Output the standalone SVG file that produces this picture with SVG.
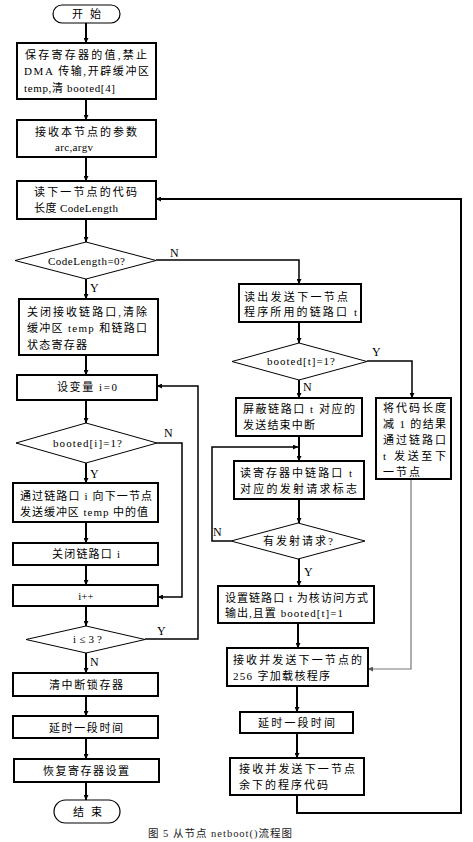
<svg xmlns="http://www.w3.org/2000/svg" width="473" height="842" viewBox="0 0 473 842">
<defs>
<marker id="ah" viewBox="0 0 8 8" refX="8" refY="4" markerWidth="5" markerHeight="5" markerUnits="userSpaceOnUse" orient="auto">
<path d="M0,0 L8,4 L0,8 Z" fill="#000"/>
</marker>
<marker id="ahg" viewBox="0 0 8 8" refX="8" refY="4" markerWidth="5" markerHeight="5" markerUnits="userSpaceOnUse" orient="auto">
<path d="M0,0 L8,4 L0,8 Z" fill="#555"/>
</marker>
<style>
.box{fill:#fff;stroke:#000;stroke-width:2}
.dia{fill:#fff;stroke:#000;stroke-width:1}
.term{fill:#fff;stroke:#000;stroke-width:1.2}
.t{font-family:"Liberation Serif","Noto Sans CJK SC",serif;font-size:11px;fill:#000}
.lb{font-family:"Liberation Serif",serif;font-size:12px;fill:#000}
.c{fill:none;stroke:#000;stroke-width:2}
.c1{fill:none;stroke:#000;stroke-width:1.5}
.cg{fill:none;stroke:#777;stroke-width:1.2}
.cap{font-family:"Liberation Serif","Noto Sans CJK SC",serif;font-size:10.5px;fill:#222}
</style>
</defs>
<g id="connectors">
<path class="c" d="M86,23 V43" marker-end="url(#ah)"/>
<path class="c" d="M86,99 V120" marker-end="url(#ah)"/>
<path class="c" d="M86,157 V181" marker-end="url(#ah)"/>
<path class="c" d="M86,219 V242" marker-end="url(#ah)"/>
<path class="c" d="M86,279 V299" marker-end="url(#ah)"/>
<path class="c" d="M86,355 V375" marker-end="url(#ah)"/>
<path class="c" d="M86,400 V423" marker-end="url(#ah)"/>
<path class="c" d="M86,463 V483" marker-end="url(#ah)"/>
<path class="c" d="M86,522 V543" marker-end="url(#ah)"/>
<path class="c" d="M86,565 V585" marker-end="url(#ah)"/>
<path class="c" d="M86,606 V626" marker-end="url(#ah)"/>
<path class="c" d="M86,653 V673" marker-end="url(#ah)"/>
<path class="c" d="M86,696 V716" marker-end="url(#ah)"/>
<path class="c" d="M86,738 V759" marker-end="url(#ah)"/>
<path class="c" d="M86,782 V800" marker-end="url(#ah)"/>
<path class="c1" d="M157,443 H182 V597 H158" marker-end="url(#ah)"/>
<path class="c1" d="M145,639 H198 V386 H157" marker-end="url(#ah)"/>
<path class="c1" d="M156,260 H299 V284" marker-end="url(#ah)"/>
<path class="c" d="M299,322 V343" marker-end="url(#ah)"/>
<path class="c" d="M299,380 V398" marker-end="url(#ah)"/>
<path class="c1" d="M367,361 H412 V398" marker-end="url(#ah)"/>
<path class="c" d="M299,436 V461" marker-end="url(#ah)"/>
<path class="c" d="M299,499 V523" marker-end="url(#ah)"/>
<path class="c1" d="M231,541 H212 V447 H298" marker-end="url(#ah)"/>
<path class="c" d="M299,559 V586" marker-end="url(#ah)"/>
<path class="c" d="M298,623 V648" marker-end="url(#ah)"/>
<path class="cg" d="M411,479 V669 H368" marker-end="url(#ahg)"/>
<path class="c" d="M297,686 V712" marker-end="url(#ah)"/>
<path class="c" d="M297,733 V758" marker-end="url(#ah)"/>
<path class="c" d="M297,795 V813 H461 V199 H156" marker-end="url(#ah)"/>
<text class="lb" x="170" y="257">N</text>
<text class="lb" x="90" y="292">Y</text>
<text class="lb" x="164" y="437">N</text>
<text class="lb" x="90" y="478">Y</text>
<text class="lb" x="157" y="635">Y</text>
<text class="lb" x="90" y="666">N</text>
<text class="lb" x="372" y="356">Y</text>
<text class="lb" x="303" y="391">N</text>
<text class="lb" x="213" y="536">N</text>
<text class="lb" x="304" y="576">Y</text>
</g>
<g id="start"><rect class="term" x="53" y="5" width="67" height="18" rx="9"/><text class="t" x="72" y="18" textLength="29" lengthAdjust="spacing">开始</text></g>
<g id="save"><rect class="box" x="17" y="43" width="139" height="56"/>
<text class="t" x="25" y="59" textLength="122" lengthAdjust="spacing">保存寄存器的值,禁止</text>
<text class="t" x="24" y="75" textLength="125" lengthAdjust="spacing">DMA 传输,开辟缓冲区</text>
<text class="t" x="24" y="92" textLength="91" lengthAdjust="spacing">temp,清 booted[4]</text></g>
<g id="recv"><rect class="box" x="17" y="120" width="139" height="37"/>
<text class="t" x="35" y="136" textLength="102" lengthAdjust="spacing">接收本节点的参数</text>
<text class="t" x="55" y="151" textLength="38" lengthAdjust="spacing">arc,argv</text></g>
<g id="read"><rect class="box" x="17" y="181" width="139" height="38"/>
<text class="t" x="34" y="196" textLength="103" lengthAdjust="spacing">读下一节点的代码</text>
<text class="t" x="34" y="212" textLength="84" lengthAdjust="spacing">长度 CodeLength</text></g>
<g id="d1"><polygon class="dia" points="86,242 156,260.5 86,279 15,260.5"/>
<text class="t" x="48" y="265" textLength="77" lengthAdjust="spacing">CodeLength=0?</text></g>
<g id="close"><rect class="box" x="19" y="299" width="139" height="56"/>
<text class="t" x="27" y="316" textLength="120" lengthAdjust="spacing">关闭接收链路口,清除</text>
<text class="t" x="27" y="332" textLength="120" lengthAdjust="spacing">缓冲区 temp 和链路口</text>
<text class="t" x="27" y="349" textLength="60" lengthAdjust="spacing">状态寄存器</text></g>
<g id="seti"><rect class="box" x="17" y="375" width="140" height="25"/>
<text class="t" x="57" y="391" textLength="60" lengthAdjust="spacing">设变量 i=0</text></g>
<g id="d2"><polygon class="dia" points="86,423 157,443 86,463 16,443"/>
<text class="t" x="53" y="447" textLength="69" lengthAdjust="spacing">booted[i]=1?</text></g>
<g id="send"><rect class="box" x="13" y="483" width="145" height="39"/>
<text class="t" x="20" y="500" textLength="132" lengthAdjust="spacing">通过链路口 i 向下一节点</text>
<text class="t" x="20" y="516" textLength="128" lengthAdjust="spacing">发送缓冲区 temp 中的值</text></g>
<g id="closei"><rect class="box" x="13" y="543" width="145" height="22"/>
<text class="t" x="52" y="558" textLength="68" lengthAdjust="spacing">关闭链路口 i</text></g>
<g id="inc"><rect class="box" x="13" y="585" width="145" height="21"/>
<text class="t" x="86" y="600" text-anchor="middle">i++</text></g>
<g id="d3"><polygon class="dia" points="86,626 145,639.5 86,653 26,639.5"/>
<text class="t" x="73" y="643" textLength="29" lengthAdjust="spacing">i≤3?</text></g>
<g id="clr"><rect class="box" x="13" y="673" width="145" height="23"/>
<text class="t" x="49" y="689" textLength="74" lengthAdjust="spacing">清中断锁存器</text></g>
<g id="delay1"><rect class="box" x="13" y="716" width="145" height="22"/>
<text class="t" x="49" y="732" textLength="74" lengthAdjust="spacing">延时一段时间</text></g>
<g id="restore"><rect class="box" x="14" y="759" width="145" height="23"/>
<text class="t" x="43" y="775" textLength="86" lengthAdjust="spacing">恢复寄存器设置</text></g>
<g id="end"><rect class="term" x="54" y="800" width="66" height="23" rx="11.5"/><text class="t" x="73" y="816" textLength="29" lengthAdjust="spacing">结束</text></g>
<g id="readt"><rect class="box" x="239" y="284" width="122" height="38"/>
<text class="t" x="244" y="301" textLength="104" lengthAdjust="spacing">读出发送下一节点</text>
<text class="t" x="244" y="316" textLength="113" lengthAdjust="spacing">程序所用的链路口 t</text></g>
<g id="d4"><polygon class="dia" points="299,343 367,361.5 299,380 232,361.5"/>
<text class="t" x="267" y="365" textLength="68" lengthAdjust="spacing">booted[t]=1?</text></g>
<g id="mask"><rect class="box" x="236" y="398" width="126" height="38"/>
<text class="t" x="243" y="413" textLength="112" lengthAdjust="spacing">屏蔽链路口 t 对应的</text>
<text class="t" x="243" y="429" textLength="72" lengthAdjust="spacing">发送结束中断</text></g>
<g id="dec"><rect class="box" x="376" y="398" width="75" height="81"/>
<text class="t" x="383" y="412" textLength="63" lengthAdjust="spacing">将代码长度</text>
<text class="t" x="383" y="428" textLength="63" lengthAdjust="spacing">减 1 的结果</text>
<text class="t" x="383" y="444" textLength="63" lengthAdjust="spacing">通过链路口</text>
<text class="t" x="383" y="460" textLength="63" lengthAdjust="spacing">t 发送至下</text>
<text class="t" x="383" y="476" textLength="37" lengthAdjust="spacing">一节点</text></g>
<g id="readreg"><rect class="box" x="234" y="461" width="130" height="38"/>
<text class="t" x="240" y="477" textLength="112" lengthAdjust="spacing">读寄存器中链路口 t</text>
<text class="t" x="240" y="493" textLength="117" lengthAdjust="spacing">对应的发射请求标志</text></g>
<g id="d5"><polygon class="dia" points="298,523 365,541 298,559 231,541"/>
<text class="t" x="263" y="545" textLength="70" lengthAdjust="spacing">有发射请求?</text></g>
<g id="setlink"><rect class="box" x="218" y="586" width="156" height="37"/>
<text class="t" x="225" y="602" textLength="143" lengthAdjust="spacing">设置链路口 t 为核访问方式</text>
<text class="t" x="225" y="617" textLength="118" lengthAdjust="spacing">输出,且置 booted[t]=1</text></g>
<g id="recv256"><rect class="box" x="227" y="648" width="141" height="38"/>
<text class="t" x="233" y="664" textLength="129" lengthAdjust="spacing">接收并发送下一节点的</text>
<text class="t" x="233" y="680" textLength="97" lengthAdjust="spacing">256 字加载核程序</text></g>
<g id="delay2"><rect class="box" x="240" y="712" width="113" height="21"/>
<text class="t" x="258" y="727" textLength="77" lengthAdjust="spacing">延时一段时间</text></g>
<g id="recvrest"><rect class="box" x="230" y="758" width="134" height="37"/>
<text class="t" x="239" y="773" textLength="116" lengthAdjust="spacing">接收并发送下一节点</text>
<text class="t" x="239" y="789" textLength="89" lengthAdjust="spacing">余下的程序代码</text></g>
<text class="cap" x="148" y="837" textLength="144" lengthAdjust="spacing">图 5 从节点 netboot()流程图</text>
</svg>
